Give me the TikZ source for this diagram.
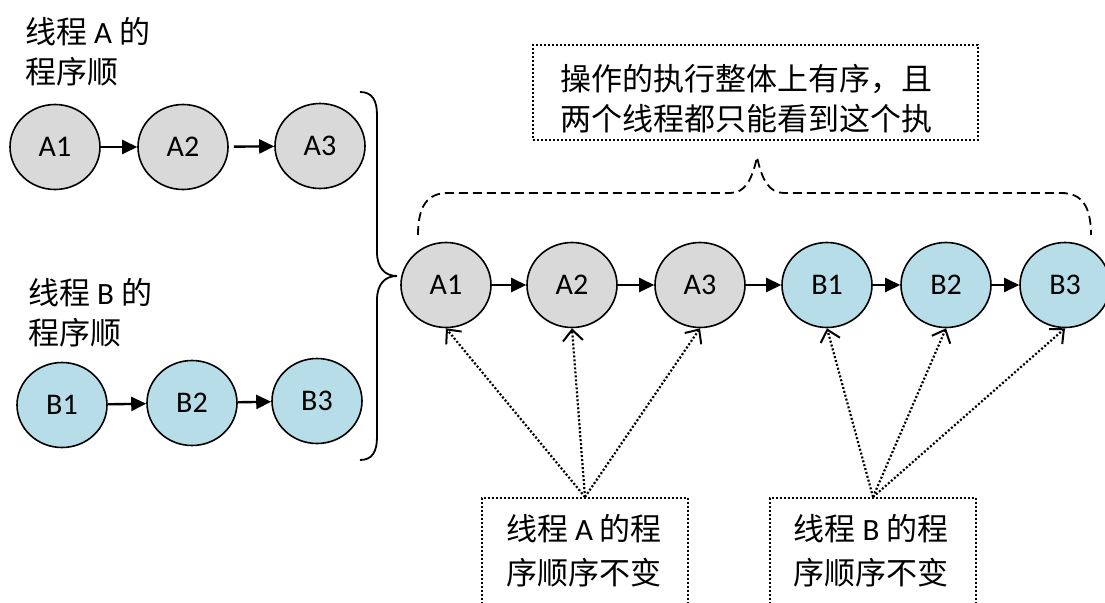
\documentclass[tikz,border=0pt]{standalone}
\usepackage{fontspec}
\setmainfont{Carlito}
\newfontfamily\cjk{Noto Sans CJK SC}
\usetikzlibrary{shapes.geometric,arrows.meta}
\definecolor{opgray}{HTML}{D9D9D9}
\definecolor{opblue}{HTML}{B7DEE8}

\begin{document}
\begin{tikzpicture}
  [x=1pt,y=-1pt,
   op/.style={ellipse,draw,line width=1.6pt,minimum width=90pt,minimum height=85pt,inner sep=0pt,font=\fontsize{30}{32}\selectfont},
   opA/.style={op,fill=opgray},
   opB/.style={op,fill=opblue},
   seq/.style={line width=2.4pt,-{Triangle[length=15pt,width=14pt]}},
   note/.style={font=\fontsize{31}{40}\selectfont,align=left,inner sep=0pt},
   dotbox/.style={draw,line width=2.2pt,dash pattern=on 2pt off 2pt},
   keep/.style={line width=2.2pt,dash pattern=on 2pt off 2pt,-{Straight Barb[length=11pt,width=20pt,line width=2pt]}}]
  \clip (0,0) rectangle (1105,602);

  % program order of each thread
  \node[note,anchor=west] (la) at (25,52) {{\cjk 线程} A {\cjk 的}\\{\cjk 程序顺}};
  \node[opA] (a1) at (55,147)  {A1};
  \node[opA] (a2) at (183,147) {A2};
  \node[opA] (a3) at (320,146) {A3};
  \node[note,anchor=west] (lb) at (28,313) {{\cjk 线程} B {\cjk 的}\\{\cjk 程序顺}};
  \node[opB] (b1) at (62,405)  {B1};
  \node[opB] (b2) at (192,403) {B2};
  \node[opB] (b3) at (317,401) {B3};

  \draw[seq] (a1) -- (a2);
  \draw[seq,shorten <=5pt] (a2) -- (a3);
  \draw[seq] (b1) -- (b2);
  \draw[seq] (b2) -- (b3);

  \draw[line width=1.8pt] (360,92) .. controls (372,92) and (377,100) .. (377,115) -- (377,252)
    .. controls (377,268) and (385,276) .. (397,276) .. controls (385,276) and (377,284) .. (377,300)
    -- (377,437) .. controls (377,452) and (372,460) .. (360,460);

  % the merged total order
  \node[opA] (ra1) at (446,285)  {A1};
  \node[opA] (ra2) at (572,285)  {A2};
  \node[opA] (ra3) at (700,285)  {A3};
  \node[opB] (rb1) at (827,285)  {B1};
  \node[opB] (rb2) at (946,285)  {B2};
  \node[opB] (rb3) at (1065,285) {B3};

  \foreach \from/\to in {ra1/ra2,ra2/ra3,ra3/rb1,rb1/rb2,rb2/rb3}
    \draw[seq] (\from) -- (\to);

  \node[dotbox,minimum width=445pt,minimum height=95pt] (top) at (755.5,92.5) {};
  \node[note] (ttop) at (746,99) {\cjk 操作的执行整体上有序，且\\\cjk 两个线程都只能看到这个执};
  \draw[line width=1.8pt,dash pattern=on 9pt off 5pt] (418,235) .. controls (418,205) and (428,193) .. (448,193)
    -- (730,193) .. controls (745,193) and (752,180) .. (757,157)
    .. controls (762,180) and (769,193) .. (784,193) -- (1061,193)
    .. controls (1081,193) and (1091,205) .. (1091,235);

  % notes under the row
  \node[dotbox,minimum width=206pt,minimum height=160pt,anchor=north] (boxA) at (585,497) {};
  \node[note,font=\fontsize{31}{44}\selectfont] (tA) at (584,551) {{\cjk 线程} A {\cjk 的程}\\{\cjk 序顺序不变}};
  \node[dotbox,minimum width=206pt,minimum height=160pt,anchor=north] (boxB) at (873,497) {};
  \node[note,font=\fontsize{31}{44}\selectfont] (tB) at (871,551) {{\cjk 线程} B {\cjk 的程}\\{\cjk 序顺序不变}};

  \foreach \to in {ra1,ra2,ra3}
    \draw[keep] (boxA.north) -- (\to.south);
  \foreach \to in {rb1,rb2,rb3}
    \draw[keep] (boxB.north) -- (\to.south);

\end{tikzpicture}
\end{document}
